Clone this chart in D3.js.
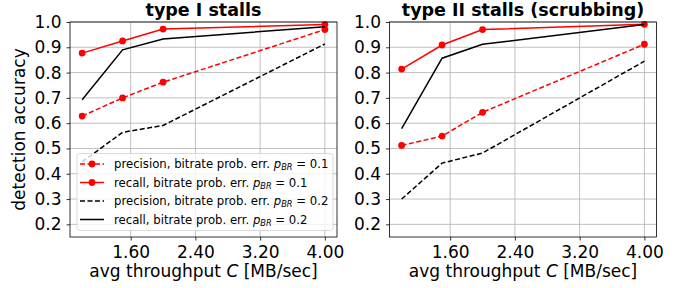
<!DOCTYPE html>
<html>
<head>
<meta charset="utf-8">
<script src="https://cdn.jsdelivr.net/npm/d3@7"></script>
<style>
  body { margin: 0; background: #fff; }
  svg { display: block; font-family: "DejaVu Sans", sans-serif; }
</style>
</head>
<body>
<div id="chart"></div>
<script>
// x values (avg throughput, MB/sec)
const throughput = [1.0, 1.5, 2.0, 4.0];
const xTicks = [1.6, 2.4, 3.2, 4.0];
const yTicks = [0.2, 0.3, 0.4, 0.5, 0.6, 0.7, 0.8, 0.9, 1.0];
const titles = ['type I stalls', 'type II stalls (scrubbing)'];

// type I stalls
const t1PrecisionP01 = [0.628, 0.700, 0.762, 0.970];
const t1RecallP01 = [0.877, 0.925, 0.972, 0.990];
const t1PrecisionP02 = [0.447, 0.564, 0.591, 0.913];
const t1RecallP02 = [0.693, 0.890, 0.933, 0.981];

// type II stalls
const t2PrecisionP01 = [0.512, 0.549, 0.643, 0.912];
const t2RecallP01 = [0.814, 0.909, 0.970, 0.991];
const t2PrecisionP02 = [0.300, 0.442, 0.482, 0.845];
const t2RecallP02 = [0.578, 0.857, 0.912, 0.990];

const seriesLabels = ['precision', 'recall', 'precision', 'recall'];
const seriesP = ['0.1', '0.1', '0.2', '0.2'];

const styles = [
  {color: 'red', dash: '5,2.5', marker: true},
  {color: 'red', dash: null, marker: true},
  {color: 'black', dash: '5,2.5', marker: false},
  {color: 'black', dash: null, marker: false}
];

const width = 688;
const height = 288;
const panels = [
  {left: 70, values: [t1PrecisionP01, t1RecallP01, t1PrecisionP02, t1RecallP02], legend: true},
  {left: 389.5, values: [t2PrecisionP01, t2RecallP01, t2PrecisionP02, t2RecallP02], legend: false}
];
const plotW = 267;
const plotTop = 22;
const plotBottom = 237;

const svg = d3.select('#chart')
  .append('svg')
  .attr('width', width)
  .attr('height', height);

panels.forEach((p, pi) => {
  const x = d3.scaleLinear().domain([0.85, 4.15]).range([p.left, p.left + plotW]);
  const y = d3.scaleLinear().domain([0.15, 1.0]).range([plotBottom, plotTop]);

  const g = svg.append('g');

  // grid
  g.append('g').selectAll('line')
    .data(xTicks)
    .enter().append('line')
      .attr('x1', d => x(d)).attr('x2', d => x(d))
      .attr('y1', plotTop).attr('y2', plotBottom)
      .style('stroke', '#b0b0b0').style('stroke-width', 0.8);
  g.append('g').selectAll('line')
    .data(yTicks)
    .enter().append('line')
      .attr('x1', p.left).attr('x2', p.left + plotW)
      .attr('y1', d => y(d)).attr('y2', d => y(d))
      .style('stroke', '#b0b0b0').style('stroke-width', 0.8);

  // axes
  const xAxis = g.append('g')
    .attr('transform', `translate(0,${plotBottom})`)
    .call(d3.axisBottom(x).tickValues(xTicks).tickFormat(d3.format('.2f')).tickSize(3.5).tickPadding(5));
  const yAxis = g.append('g')
    .attr('transform', `translate(${p.left},0)`)
    .call(d3.axisLeft(y).tickValues(yTicks).tickFormat(d3.format('.1f')).tickSize(3.5).tickPadding(5));
  [xAxis, yAxis].forEach(a => {
    a.select('.domain').remove();
    a.selectAll('line').style('stroke', '#000').style('stroke-width', 0.8);
    a.selectAll('text')
      .style('font-family', '"DejaVu Sans", sans-serif')
      .style('font-size', '17px')
      .style('fill', '#000');
  });

  // lines
  const line = d3.line()
    .x((d, i) => x(throughput[i]))
    .y(d => y(d));

  p.values.forEach((vals, si) => {
    const s = styles[si];
    g.append('path')
      .datum(vals)
      .attr('d', line)
      .style('fill', 'none')
      .style('stroke', s.color)
      .style('stroke-width', 1.5)
      .style('stroke-dasharray', s.dash);
    if (s.marker) {
      g.append('g').selectAll('circle')
        .data(vals)
        .enter().append('circle')
          .attr('cx', (d, i) => x(throughput[i]))
          .attr('cy', d => y(d))
          .attr('r', 3.4)
          .style('fill', s.color);
    }
  });

  // frame
  g.append('rect')
    .attr('x', p.left).attr('y', plotTop)
    .attr('width', plotW).attr('height', plotBottom - plotTop)
    .style('fill', 'none').style('stroke', '#000').style('stroke-width', 0.8);

  // title
  g.append('text')
    .attr('x', p.left + plotW / 2)
    .attr('y', 16)
    .attr('text-anchor', 'middle')
    .style('font-size', '17.5px')
    .style('font-weight', 'bold')
    .text(titles[pi]);

  // x label
  const xl = g.append('text')
    .attr('x', p.left + plotW / 2)
    .attr('y', 277)
    .attr('text-anchor', 'middle')
    .style('font-size', '17px');
  xl.append('tspan').text('avg throughput ');
  xl.append('tspan').style('font-style', 'italic').text('C');
  xl.append('tspan').text(' [MB/sec]');

  if (pi === 0) {
    svg.append('text')
      .attr('transform', `translate(25,${(plotTop + plotBottom) / 2}) rotate(-90)`)
      .attr('text-anchor', 'middle')
      .style('font-size', '17px')
      .text('detection accuracy');
  }

  if (p.legend) {
    const lg = g.append('g');
    lg.append('rect')
      .attr('x', 77).attr('y', 153.5)
      .attr('width', 256).attr('height', 77)
      .attr('rx', 3)
      .style('fill', 'white').style('fill-opacity', 0.8)
      .style('stroke', '#d0d0d0').style('stroke-width', 0.8);
    seriesLabels.forEach((lab, si) => {
      const s = styles[si];
      const cy = 164 + si * 18.5;
      lg.append('line')
        .attr('x1', 80).attr('x2', 104)
        .attr('y1', cy).attr('y2', cy)
        .style('stroke', s.color).style('stroke-width', 1.5)
        .style('stroke-dasharray', s.dash);
      if (s.marker) {
        lg.append('circle').attr('cx', 92).attr('cy', cy).attr('r', 3.4).style('fill', s.color);
      }
      const t = lg.append('text')
        .attr('x', 114)
        .attr('y', cy + 4.2)
        .style('font-size', '11.7px');
      t.append('tspan').text(lab + ', bitrate prob. err. ');
      t.append('tspan').style('font-style', 'italic').text('p');
      t.append('tspan').style('font-style', 'italic').style('font-size', '8.2px').attr('dy', 2.2).text('BR');
      t.append('tspan').attr('dy', -2.2).text(' = ' + seriesP[si]);
    });
  }
});
</script>
</body>
</html>
